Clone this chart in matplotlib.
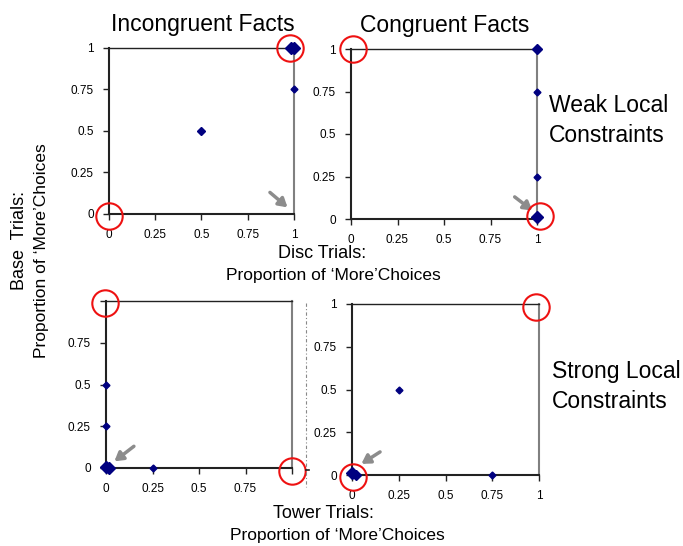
import matplotlib
matplotlib.use('Agg')
import matplotlib.pyplot as plt
from matplotlib.lines import Line2D

plt.rcParams['font.family'] = ['Liberation Sans', 'DejaVu Sans']

ticks = [0, 0.25, 0.5, 0.75, 1]
tick_labels = ['0', '0.25', '0.5', '0.75', '1']

# points per panel (x, y, marker size) - big markers are stacked subjects
inc_weak_x = [1, 0.985, 1, 0.5]
inc_weak_y = [1, 1, 0.75, 0.5]
inc_weak_s = [6, 6, 3.5, 4.5]
con_weak_x = [1, 1, 1, 1]
con_weak_y = [1, 0.75, 0.25, 0.01]
con_weak_s = [5.5, 3.5, 3.5, 6]
inc_strong_x = [0, 0.015, 0, 0, 0.25]
inc_strong_y = [0.005, 0, 0.25, 0.5, 0]
inc_strong_s = [6, 6, 3.5, 3.5, 3.5]
con_strong_x = [0, 0.02, 0.25, 0.75]
con_strong_y = [0.01, 0, 0.5, 0]
con_strong_s = [6, 5, 3.5, 3.5]

# red circles (predicted corners) and grey arrows (tail -> head)
circles = [[(0.98, 1.0), (0.0, -0.01)],
           [(0.01, 1.0), (1.015, 0.015)],
           [(-0.005, 0.99), (1.0, -0.02)],
           [(0.985, 0.98), (0.005, -0.01)]]
arrows = [((0.87, 0.13), (0.965, 0.04)),
          ((0.88, 0.13), (0.975, 0.05)),
          ((0.15, 0.13), (0.045, 0.04)),
          ((0.15, 0.135), (0.05, 0.065))]

W, H = 683, 546
fig = plt.figure(figsize=(W / 100, H / 100), dpi=100)


def px_axes(x0, x1, y0, y1):
    return fig.add_axes([x0 / W, 1 - y1 / H, (x1 - x0) / W, (y1 - y0) / H])


def panel(ax, xs, ys, ss, circ, arr, hide_one=False):
    ax.set_xlim(0, 1)
    ax.set_ylim(0, 1)
    ax.set_xticks(ticks)
    ax.set_yticks(ticks)
    labs = list(tick_labels)
    if hide_one:
        labs[-1] = ''
    ax.set_xticklabels(labs)
    ax.set_yticklabels(labs)
    ax.tick_params(direction='out', length=4, width=1, pad=7, labelsize=8.5,
                   color='#222222')
    for s in ['left', 'bottom']:
        ax.spines[s].set_linewidth(1.5)
        ax.spines[s].set_color('#222222')
    ax.spines['top'].set_linewidth(1.0)
    ax.spines['top'].set_color('#222222')
    ax.spines['right'].set_linewidth(1.5)
    ax.spines['right'].set_color('#808080')
    for x, y, s in zip(xs, ys, ss):
        ax.plot(x, y, 'D', ms=s, color='#000080', clip_on=False, zorder=4)
    for cx, cy in circ:
        ax.plot(cx, cy, 'o', ms=19, mfc='none', mec='#ee1111', mew=1.5,
                clip_on=False, zorder=5)
    (tx, ty), (hx, hy) = arr
    ax.annotate('', xy=(hx, hy), xytext=(tx, ty),
                arrowprops=dict(arrowstyle='-|>,head_length=0.5,head_width=0.3',
                                color='#8c8c8c', lw=2.5, shrinkA=0, shrinkB=0),
                annotation_clip=False)


ax1 = px_axes(109, 294, 48, 214)
ax2 = px_axes(351, 537, 49, 219)
ax3 = px_axes(106, 292, 301, 468)
ax4 = px_axes(352, 539, 304, 475)

panel(ax1, inc_weak_x, inc_weak_y, inc_weak_s, circles[0], arrows[0])
panel(ax2, con_weak_x, con_weak_y, con_weak_s, circles[1], arrows[1])
panel(ax3, inc_strong_x, inc_strong_y, inc_strong_s, circles[2], arrows[2], hide_one=True)
panel(ax4, con_strong_x, con_strong_y, con_strong_s, circles[3], arrows[3])


def txt(x, y, s, size, **kw):
    fig.text(x / W, 1 - y / H, s, fontsize=size, **kw)


txt(203, 31, 'Incongruent Facts', 16.5, ha='center', va='baseline')
txt(445, 32, 'Congruent Facts', 16.5, ha='center', va='baseline')
txt(549, 112, 'Weak Local', 16.5, ha='left', va='baseline')
txt(549, 142, 'Constraints', 16.5, ha='left', va='baseline')
txt(552, 378, 'Strong Local', 16.5, ha='left', va='baseline')
txt(552, 408, 'Constraints', 16.5, ha='left', va='baseline')
txt(322, 258, 'Disc Trials:', 13, ha='center', va='baseline')
txt(333, 280, 'Proportion of \u2018More\u2019Choices', 12.5, ha='center', va='baseline')
txt(323, 518, 'Tower Trials:', 13, ha='center', va='baseline')
txt(337, 540, 'Proportion of \u2018More\u2019Choices', 12.5, ha='center', va='baseline')
txt(20, 240, 'Base  Trials:', 13, ha='center', va='center', rotation=90)
txt(42, 251, 'Proportion of \u2018More\u2019Choices', 12.5, ha='center', va='center', rotation=90)

# stray dotted guide line between the lower panels
fig.add_artist(Line2D([306 / W, 306 / W], [1 - 303 / H, 1 - 487 / H],
                      transform=fig.transFigure, color='#888888', lw=0.8,
                      linestyle=(0, (3, 2, 1, 2))))
fig.add_artist(Line2D([306 / W, 309 / W], [1 - 470 / H, 1 - 470 / H],
                      transform=fig.transFigure, color='#222222', lw=1.2))

fig.savefig('out.png', dpi=100)
